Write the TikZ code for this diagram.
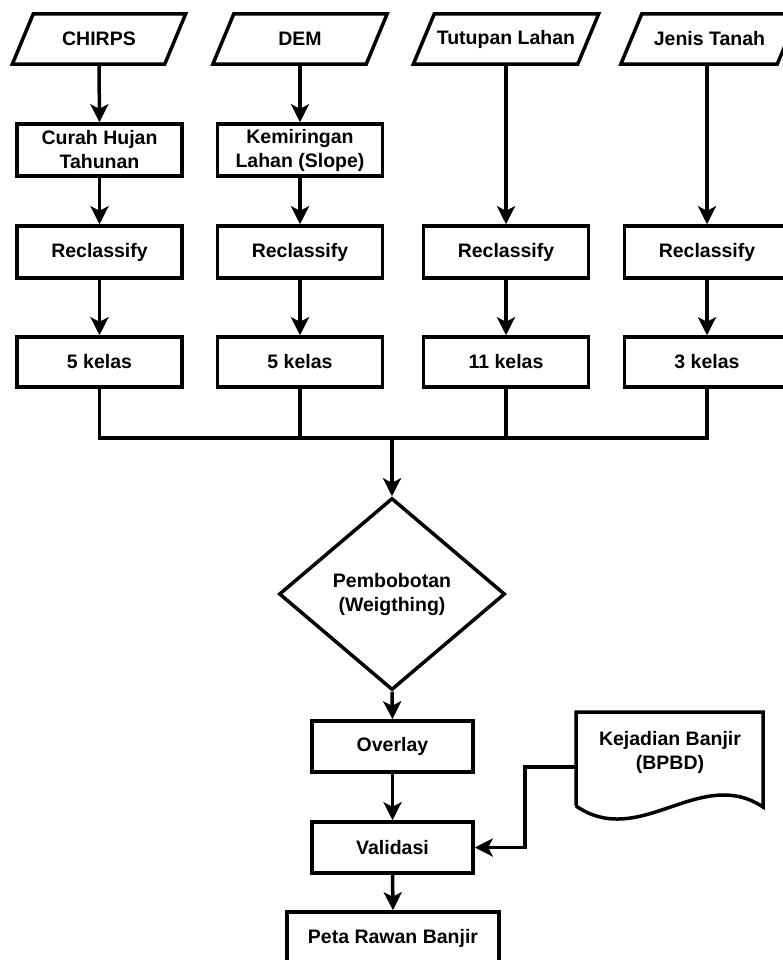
\documentclass[tikz,border=0pt]{standalone}
\usepackage{fontspec}
\setmainfont{Liberation Sans}
\usetikzlibrary{arrows.meta,shapes.geometric,calc}
\newcommand{\lblfont}{\bfseries\fontsize{19.5}{24}\selectfont}
\tikzset{
  ln/.style={line width=3.5pt},
  arr/.style={line width=3.5pt,-{Stealth[length=18pt,width=18pt,inset=4.5pt]}},
  box/.style={draw,line width=3.5pt,minimum width=165pt,minimum height=52pt,inner sep=0pt,align=center,font=\lblfont},
  parabox/.style={minimum height=50pt,inner sep=0pt,align=center,font=\lblfont},
  dia/.style={draw,line width=3.5pt,diamond,minimum width=226pt,minimum height=192pt,inner sep=0pt,align=center,font=\lblfont},
  lbl/.style={inner sep=0pt,align=center,font=\lblfont}
}
\begin{document}
\begin{tikzpicture}[x=1pt,y=-1pt]
\useasboundingbox (0,0) rectangle (783,960);
% inputs (parallelograms)
\node[parabox,minimum width=152pt] (chirps) at (99,39) {CHIRPS};
\node[parabox,minimum width=153pt] (dem) at (300,39) {DEM};
\node[parabox,minimum width=164pt] (tut) at (506,39) {Tutupan Lahan};
\node[parabox,minimum width=156pt] (jen) at (709.5,39) {Jenis Tanah};
\foreach \n in {chirps,dem,tut,jen}{
  \draw[ln] ($(\n.north west)+(10.5,0)$) -- ($(\n.north east)+(10.5,0)$) -- ($(\n.south east)+(-10.5,0)$) -- ($(\n.south west)+(-10.5,0)$) -- cycle;
}
% second row
\node[box] (curah) at (99.5,150) {Curah Hujan\\Tahunan};
\node[box] (kemi) at (300,150) {Kemiringan\\Lahan (Slope)};
% reclassify
\node[box] (rec1) at (99.5,252) {Reclassify};
\node[box] (rec2) at (300,252) {Reclassify};
\node[box] (rec3) at (506,252) {Reclassify};
\node[box] (rec4) at (707,252) {Reclassify};
% classes
\node[box,minimum height=50pt] (kel1) at (99.5,362) {5 kelas};
\node[box,minimum height=50pt] (kel2) at (300,362) {5 kelas};
\node[box,minimum height=50pt] (kel3) at (506,362) {11 kelas};
\node[box,minimum height=50pt] (kel4) at (707,362) {3 kelas};
% diamond
\node[dia] (bobot) at (392,594) {Pembobotan\\(Weigthing)};
% lower boxes
\node[box,minimum width=161pt,minimum height=51pt] (over) at (392.5,746.5) {Overlay};
\node[box,minimum width=161pt,minimum height=51pt] (val) at (392.5,847.5) {Validasi};
\node[box,minimum width=212pt] (peta) at (393,938) {Peta Rawan Banjir};
% document shape
\draw[ln] (576,806) -- (576,712) -- (763,712) -- (763,807)
  .. controls (700,765) and (640,850) .. (576,806);
\node[lbl] (kej) at (670,752) {Kejadian Banjir\\(BPBD)};
\coordinate (kin) at (576,767);
% connectors
\draw[arr] (chirps.south) -- (curah.north);
\draw[arr] (dem.south) -- (kemi.north);
\draw[arr] (curah.south) -- (rec1.north);
\draw[arr] (kemi.south) -- (rec2.north);
\draw[arr] (tut.south) -- (rec3.north);
\draw[arr] (rec4.north |- jen.south) -- (rec4.north);
\draw[arr] (rec1.south) -- (kel1.north);
\draw[arr] (rec2.south) -- (kel2.north);
\draw[arr] (rec3.south) -- (kel3.north);
\draw[arr] (rec4.south) -- (kel4.north);
\coordinate (j) at (392,438);
\draw[ln] (kel1.south) |- (j);
\draw[ln] (kel4.south) |- (j);
\draw[ln] (kel2.south) -- (kel2.south |- j);
\draw[ln] (kel3.south) -- (kel3.south |- j);
\draw[arr] (j) -- (bobot.north);
\draw[arr] (bobot.south) -- (over.north);
\draw[arr] (over.south) -- (val.north);
\draw[arr] (val.south) -- (peta.north);
\draw[arr] (kin) -- ++(-51,0) |- (val.east);
\end{tikzpicture}
\end{document}
